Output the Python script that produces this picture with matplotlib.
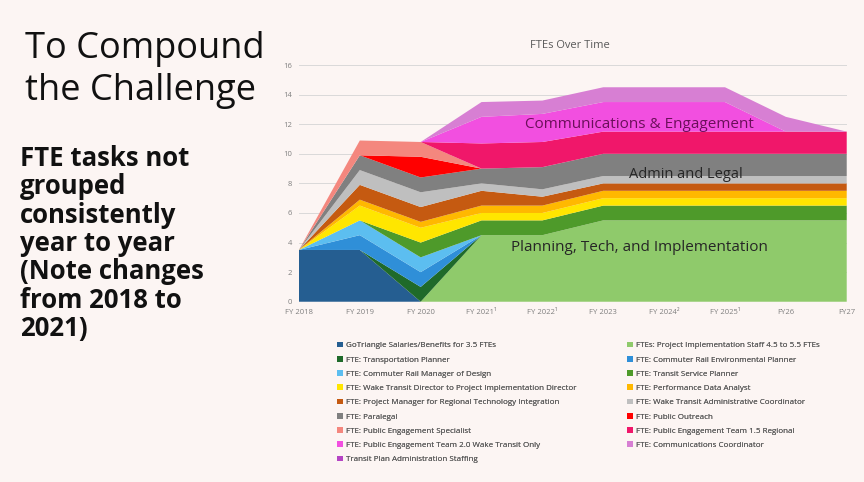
import numpy as np
import matplotlib
matplotlib.use('Agg')
from matplotlib import pyplot as plt
from matplotlib.patches import Patch

plt.rcParams['font.family'] = ['Open Sans', 'DejaVu Sans']

years = ['FY 2018', 'FY 2019', 'FY 2020', 'FY 2021\u00b9', 'FY 2022\u00b9', 'FY 2023',
         'FY 2024\u00b2', 'FY 2025\u00b9', 'FY26', 'FY27']

gotriangle = [3.5, 3.5, 0, 0, 0, 0, 0, 0, 0, 0]
implementation_staff = [0, 0, 0, 4.5, 4.5, 5.5, 5.5, 5.5, 5.5, 5.5]
transportation_planner = [0, 0, 1, 0, 0, 0, 0, 0, 0, 0]
rail_env_planner = [0, 1, 1, 0, 0, 0, 0, 0, 0, 0]
rail_design_mgr = [0, 1, 1, 0, 0, 0, 0, 0, 0, 0]
service_planner = [0, 0, 1, 1, 1, 1, 1, 1, 1, 1]
wake_director = [0, 1, 1, 0.5, 0.5, 0.5, 0.5, 0.5, 0.5, 0.5]
data_analyst = [0, 0.4, 0.4, 0.5, 0.5, 0.5, 0.5, 0.5, 0.5, 0.5]
tech_pm = [0, 1, 1, 1, 0.6, 0.5, 0.5, 0.5, 0.5, 0.5]
admin_coord = [0, 1, 1, 0.5, 0.5, 0.5, 0.5, 0.5, 0.5, 0.5]
paralegal = [0, 1, 1, 1, 1.5, 1.5, 1.5, 1.5, 1.5, 1.5]
public_outreach = [0, 0, 1.4, 0, 0, 0, 0, 0, 0, 0]
engagement_spec = [0, 1, 1, 0, 0, 0, 0, 0, 0, 0]
engagement_regional = [0, 0, 0, 1.7, 1.7, 1.5, 1.5, 1.5, 1.5, 1.5]
engagement_wake = [0, 0, 0, 1.8, 1.9, 2, 2, 2, 0, 0]
comms_coord = [0, 0, 0, 1, 0.9, 1, 1, 1, 1, 0]
plan_admin = [0, 0, 0, 0, 0, 0, 0, 0, 0, 0]

labels = [
    'GoTriangle Salaries/Benefits for 3.5 FTEs',
    'FTEs: Project Implementation Staff 4.5 to 5.5 FTEs',
    'FTE: Transportation Planner',
    'FTE: Commuter Rail Environmental Planner',
    'FTE: Commuter Rail Manager of Design',
    'FTE: Transit Service Planner',
    'FTE: Wake Transit Director to Project Implementation Director',
    'FTE: Performance Data Analyst',
    'FTE: Project Manager for Regional Technology Integration',
    'FTE: Wake Transit Administrative Coordinator',
    'FTE: Paralegal',
    'FTE: Public Outreach',
    'FTE: Public Engagement Specialist',
    'FTE: Public Engagement Team 1.5 Regional',
    'FTE: Public Engagement Team 2.0 Wake Transit Only',
    'FTE: Communications Coordinator',
    'Transit Plan Administration Staffing',
]
series = [gotriangle, implementation_staff, transportation_planner, rail_env_planner,
          rail_design_mgr, service_planner, wake_director, data_analyst, tech_pm,
          admin_coord, paralegal, public_outreach, engagement_spec,
          engagement_regional, engagement_wake, comms_coord, plan_admin]
colors = ['#255e91', '#8fca6b', '#1f6a2a', '#2f8fd8', '#5cbef0', '#4e9a2a',
          '#ffe600', '#ffb800', '#c55a11', '#bfbfbf', '#808080', '#ff0000',
          '#f4877e', '#f0176a', '#f24fe0', '#d77fd3', '#b544c4']

fig = plt.figure(figsize=(8.64, 4.82), dpi=100)
fig.patch.set_facecolor('#fcf5f3')
ax = fig.add_axes([0.346, 0.374, 0.634, 0.491])
ax.set_facecolor('none')

x = np.arange(len(years))
ax.stackplot(x, *series, colors=colors, labels=labels, linewidth=0)
ax.set_xlim(0, len(years) - 1)
ax.set_ylim(0, 16)
ax.set_yticks(range(0, 17, 2))
ax.set_xticks(x)
ax.set_xticklabels(years)
ax.tick_params(length=0, labelsize=5.5, labelcolor='#7f7f7f', pad=5)
ax.grid(axis='y', color='#d9d9d9', linewidth=0.7)
ax.set_axisbelow(True)
for s in ax.spines.values():
    s.set_visible(False)

fig.text(0.66, 0.9, 'FTEs Over Time', fontsize=8, color='#595959', ha='center')

ax.text(5.6, 12.0, 'Communications & Engagement', fontsize=11, color='#6b0f5a',
        ha='center', va='center')
ax.text(6.35, 8.6, 'Admin and Legal', fontsize=10.5, color='#262626',
        ha='center', va='center')
ax.text(5.6, 3.7, 'Planning, Tech, and Implementation', fontsize=11, color='#262626',
        ha='center', va='center')

# slide text on the left
fig.text(0.029, 0.935, 'To Compound\nthe Challenge', fontsize=26, color='#111111',
         va='top', linespacing=1.22)
fig.text(0.023, 0.7, 'FTE tasks not\ngrouped\nconsistently\nyear to year\n(Note changes\nfrom 2018 to\n2021)',
         fontsize=18.5, fontweight='bold', color='#111111', va='top', linespacing=1.07)

# legend laid out row by row in two columns
handles = [Patch(facecolor=c, edgecolor='none') for c in colors]
for col, xpos in [(0, 0.390), (1, 0.726)]:
    hs = handles[col::2]
    ls = labels[col::2]
    leg = fig.legend(hs, ls, loc='upper left', bbox_to_anchor=(xpos, 0.291),
                     frameon=False, fontsize=5.8, labelcolor='#595959',
                     handlelength=0.7, handleheight=0.7, handletextpad=0.4,
                     labelspacing=0.82, borderaxespad=0, borderpad=0)
    fig.add_artist(leg)

fig.savefig('out.png', dpi=100, facecolor=fig.get_facecolor())
